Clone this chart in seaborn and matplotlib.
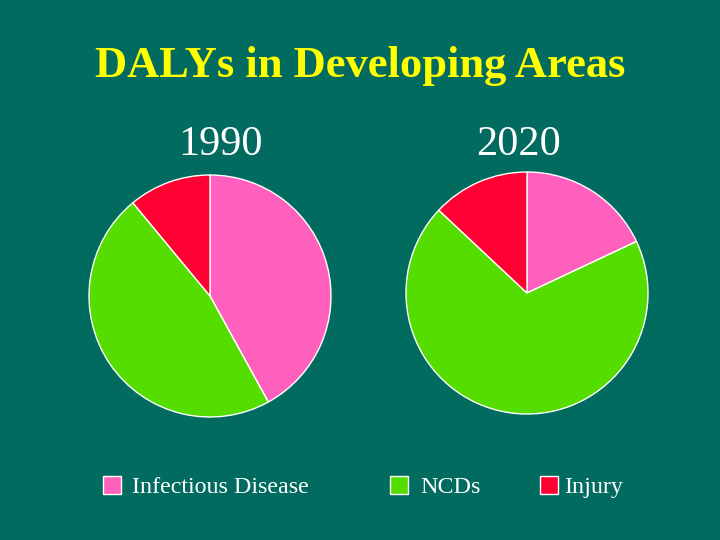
import matplotlib
matplotlib.use('Agg')
import matplotlib.pyplot as plt
import seaborn as sns
from matplotlib.patches import Rectangle

# data (percent of DALYs)
categories = ['Infectious Disease', 'NCDs', 'Injury']
years = ['1990', '2020']
share_1990 = [42, 47, 11]
share_2020 = [18, 69, 13]

colors = ['#FF5FBD', '#55DD00', '#FF0033']
bg = '#006B5E'

sns.set_style('white')
plt.rcParams['font.family'] = ['Liberation Serif', 'DejaVu Serif']

fig = plt.figure(figsize=(7.2, 5.4), dpi=100)
fig.patch.set_facecolor(bg)

W, H = 720, 540

fig.text(360 / W, 1 - 77 / H, 'DALYs in Developing Areas', color='#FFFF00',
         fontsize=32, fontweight='bold', ha='center', va='baseline')

# pie centres / radius in pixels
pies = [(share_1990, 210, 296, 220), (share_2020, 527, 293, 518)]
R = 121
for (vals, cx, cy, lx), yr in zip(pies, years):
    ax = fig.add_axes([(cx - R) / W, (H - cy - R) / H, 2 * R / W, 2 * R / H])
    ax.pie(vals, colors=colors, startangle=90, counterclock=False,
           wedgeprops=dict(edgecolor='white', linewidth=1))
    ax.set_xlim(-1, 1)
    ax.set_ylim(-1, 1)
    ax.set_aspect('equal')
    ax.axis('off')
    fig.text(lx / W, 1 - 155 / H, yr, color='white', fontsize=30.5,
             ha='center', va='baseline')

# legend
sq_x = [103, 390, 540]
txt_x = [132, 420, 564]
for c, lab, sx, tx in zip(colors, categories, sq_x, txt_x):
    fig.patches.append(Rectangle((sx / W, 1 - 494 / H), 18 / W, 18 / H,
                                 transform=fig.transFigure, facecolor=c,
                                 edgecolor='white', linewidth=1))
    fig.text(tx / W, 1 - 493 / H, lab, color='white', fontsize=17.3,
             ha='left', va='baseline')

fig.savefig('out.png', dpi=100, facecolor=bg)
